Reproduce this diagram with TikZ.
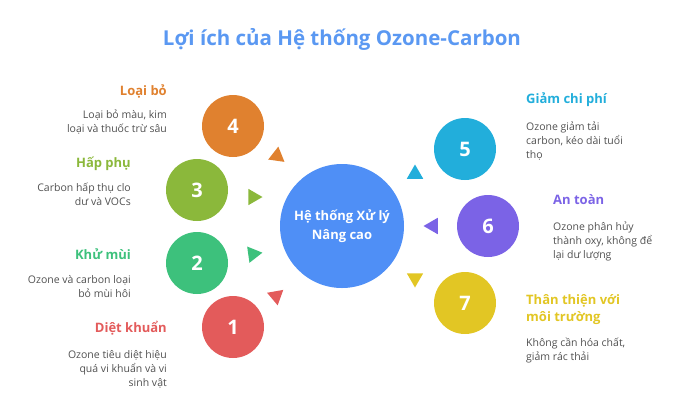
\documentclass[tikz,border=0pt]{standalone}
\usepackage{fontspec}
\setmainfont{Open Sans}
\usetikzlibrary{shapes.geometric,positioning}

\definecolor{hubblue}{HTML}{4F8FF6}
\definecolor{titleblue}{HTML}{5A98F2}
\definecolor{cred}{HTML}{E35B5B}
\definecolor{cgreen}{HTML}{3DC17C}
\definecolor{clime}{HTML}{8BB83B}
\definecolor{corange}{HTML}{E0812F}
\definecolor{ccyan}{HTML}{22AEDB}
\definecolor{cpurple}{HTML}{7B63E6}
\definecolor{cyellow}{HTML}{E2C624}
\definecolor{desc}{HTML}{505050}

\begin{document}
\begin{tikzpicture}[x=1pt, y=-1pt,
                    num node/.style={circle,minimum size=62pt,inner sep=0pt,text=white,font=\fontsize{20}{20}\selectfont\bfseries},
                    tri node/.style={regular polygon,regular polygon sides=3,minimum size=19pt,inner sep=0pt},
                    head node/.style={inner sep=0pt,font=\fontsize{13}{17}\selectfont\bfseries},
                    desc node/.style={inner sep=0pt,text=desc,font=\fontsize{10.5}{14}\selectfont}]

  \useasboundingbox (0,0) rectangle (686,400);

  \node[text=titleblue,font=\fontsize{20.5}{20.5}\selectfont\bfseries] (title) at (342,39) {Lợi ích của Hệ thống Ozone-Carbon};

  \node[circle,fill=hubblue,minimum size=124pt,inner sep=0pt,text=white,align=center,
        font=\fontsize{13}{19}\selectfont\bfseries] (hub) at (342,226) {Hệ thống Xử lý\\Nâng cao};

  \node[num node,fill=cred] (c1) at (233,327) {1};
  \node[num node,fill=cgreen] (c2) at (197,263) {2};
  \node[num node,fill=clime] (c3) at (197,190) {3};
  \node[num node,fill=corange] (c4) at (233,126) {4};
  \node[num node,fill=ccyan] (c5) at (465,149) {5};
  \node[num node,fill=cpurple] (c6) at (488,226) {6};
  \node[num node,fill=cyellow] (c7) at (465,303) {7};

  \node[tri node,fill=cred,shape border rotate=190] (t1) at (276,296) {};
  \node[tri node,fill=cgreen,shape border rotate=-82] (t2) at (253,254) {};
  \node[tri node,fill=clime,shape border rotate=-90] (t3) at (253,197) {};
  \node[tri node,fill=corange,shape border rotate=-8] (t4) at (277,156) {};
  \node[tri node,fill=ccyan] (t5) at (415,174) {};
  \node[tri node,fill=cpurple,shape border rotate=90] (t6) at (433,226) {};
  \node[tri node,fill=cyellow,shape border rotate=180] (t7) at (415,278) {};

  % left side (base = last line)
  \node[head node,text=corange,anchor=base east] (h4) at (167,95) {Loại bỏ};
  \node[desc node,anchor=base east,align=right] (d4) at (167,132) {Loại bỏ màu, kim\\loại và thuốc trừ sâu};
  \node[head node,text=clime,anchor=base east] (h3) at (131,167) {Hấp phụ};
  \node[desc node,anchor=base east,align=right] (d3) at (131,205) {Carbon hấp thụ clo\\dư và VOCs};
  \node[head node,text=cgreen,anchor=base east] (h2) at (131,259) {Khử mùi};
  \node[desc node,anchor=base east,align=right] (d2) at (131,297) {Ozone và carbon loại\\bỏ mùi hôi};
  \node[head node,text=cred,anchor=base east] (h1) at (167,332) {Diệt khuẩn};
  \node[desc node,anchor=base east,align=right] (d1) at (167,386) {Ozone tiêu diệt hiệu\\quá vi khuẩn và vi\\sinh vật};

  % right side
  \node[head node,text=ccyan,anchor=base west] (h5) at (526,103) {Giảm chi phí};
  \node[desc node,anchor=base west,align=left] (d5) at (526,158) {Ozone giảm tải\\carbon, kéo dài tuổi\\thọ};
  \node[head node,text=cpurple,anchor=base west] (h6) at (553,204) {An toàn};
  \node[desc node,anchor=base west,align=left] (d6) at (553,258) {Ozone phân hủy\\thành oxy, không để\\lại dư lượng};
  \node[head node,text=cyellow,anchor=base west,align=left] (h7) at (526,321) {Thân thiện với\\môi trường};
  \node[desc node,anchor=base west,align=left] (d7) at (526,360) {Không cần hóa chất,\\giảm rác thải};

\end{tikzpicture}
\end{document}
